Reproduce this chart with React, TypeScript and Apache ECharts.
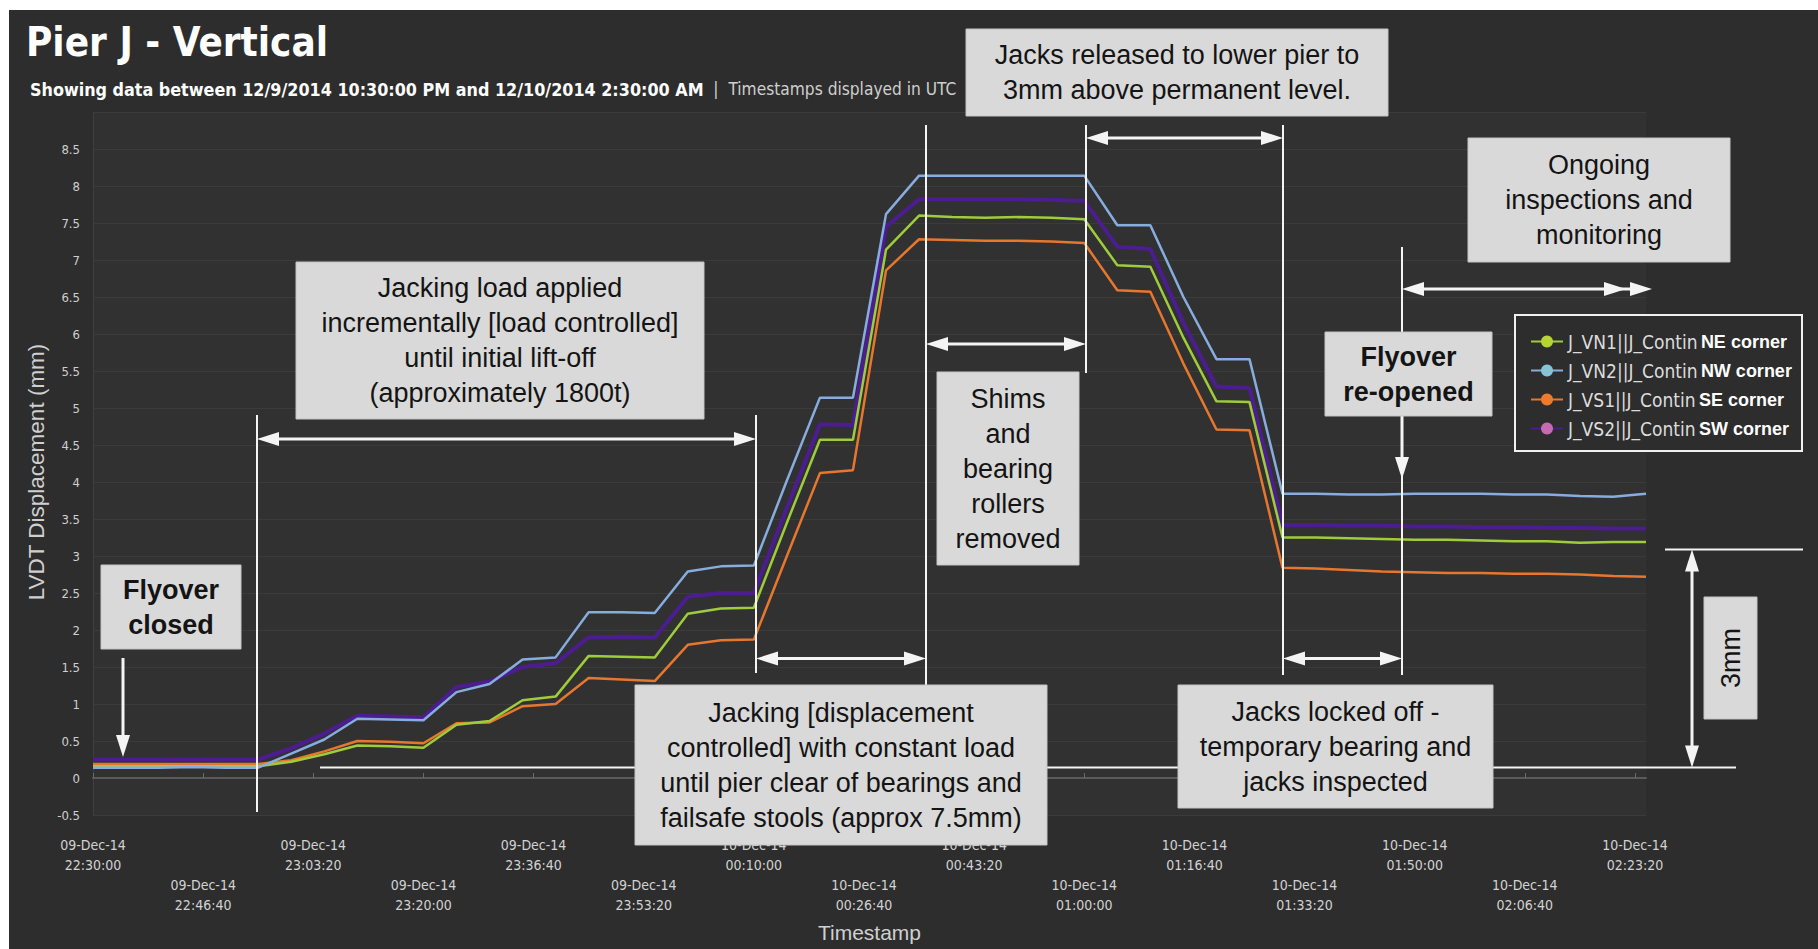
import React, { useEffect, useRef } from "react";
import * as echarts from "echarts";

// ---- data (5-minute samples, 09-Dec-14 22:30 → 10-Dec-14 02:25) ----
const times = [
  "22:30", "22:35", "22:40", "22:45", "22:50", "22:55", "23:00", "23:05", "23:10", "23:15", "23:20", "23:25",
  "23:30", "23:35", "23:40", "23:45", "23:50", "23:55", "00:00", "00:05", "00:10", "00:15", "00:20", "00:25",
  "00:30", "00:35", "00:40", "00:45", "00:50", "00:55", "01:00", "01:05", "01:10", "01:15", "01:20", "01:25",
  "01:30", "01:35", "01:40", "01:45", "01:50", "01:55", "02:00", "02:05", "02:10", "02:15", "02:20", "02:25",
];
const vn1 = [
  0.16, 0.16, 0.16, 0.16, 0.16, 0.16, 0.22, 0.32, 0.44, 0.43, 0.41, 0.72,
  0.77, 1.05, 1.1, 1.65, 1.64, 1.63, 2.22, 2.29, 2.3, 3.45, 4.57, 4.57,
  7.14, 7.6, 7.58, 7.57, 7.58, 7.57, 7.55, 6.93, 6.91, 5.95, 5.09, 5.08,
  3.25, 3.25, 3.24, 3.23, 3.22, 3.22, 3.21, 3.2, 3.2, 3.18, 3.19, 3.19,
];
const vn2 = [
  0.14, 0.14, 0.14, 0.15, 0.14, 0.14, 0.33, 0.52, 0.8, 0.79, 0.78, 1.16,
  1.27, 1.6, 1.63, 2.24, 2.24, 2.23, 2.79, 2.86, 2.87, 4.02, 5.14, 5.14,
  7.62, 8.14, 8.14, 8.14, 8.14, 8.14, 8.14, 7.47, 7.47, 6.5, 5.66, 5.66,
  3.84, 3.84, 3.83, 3.83, 3.84, 3.84, 3.84, 3.83, 3.83, 3.81, 3.8, 3.84,
];
const vs1 = [
  0.19, 0.19, 0.19, 0.19, 0.19, 0.19, 0.24, 0.36, 0.5, 0.49, 0.47, 0.74,
  0.75, 0.97, 1.0, 1.35, 1.33, 1.31, 1.8, 1.86, 1.87, 3.0, 4.12, 4.16,
  6.86, 7.28, 7.27, 7.26, 7.26, 7.25, 7.23, 6.59, 6.57, 5.6, 4.71, 4.7,
  2.84, 2.83, 2.81, 2.79, 2.78, 2.77, 2.77, 2.76, 2.76, 2.75, 2.73, 2.72,
];
const vs2 = [
  0.25, 0.25, 0.25, 0.25, 0.25, 0.25, 0.4, 0.6, 0.84, 0.83, 0.82, 1.23,
  1.3, 1.5, 1.55, 1.9, 1.91, 1.9, 2.45, 2.5, 2.5, 3.65, 4.78, 4.77,
  7.45, 7.82, 7.82, 7.82, 7.82, 7.81, 7.8, 7.18, 7.15, 6.15, 5.29, 5.27,
  3.42, 3.42, 3.41, 3.41, 3.4, 3.4, 3.39, 3.39, 3.38, 3.38, 3.37, 3.37,
];
const seriesNames = ["J_VN1||J_Contin", "J_VN2||J_Contin", "J_VS1||J_Contin", "J_VS2||J_Contin"];
const corners = ["NE corner", "NW corner", "SE corner", "SW corner"];
const xTickLabels = [
  "09-Dec-14\n22:30:00", "09-Dec-14\n22:46:40", "09-Dec-14\n23:03:20", "09-Dec-14\n23:20:00",
  "09-Dec-14\n23:36:40", "09-Dec-14\n23:53:20", "10-Dec-14\n00:10:00", "10-Dec-14\n00:26:40",
  "10-Dec-14\n00:43:20", "10-Dec-14\n01:00:00", "10-Dec-14\n01:16:40", "10-Dec-14\n01:33:20",
  "10-Dec-14\n01:50:00", "10-Dec-14\n02:06:40", "10-Dec-14\n02:23:20",
];

const COND = "'DejaVu Sans Condensed', 'Liberation Sans Narrow', 'DejaVu Sans', sans-serif";
const ARIAL = "'Liberation Sans', Arial, sans-serif";
const WHITE = "#f4f4f4";

function toSec(t: string): number {
  const [h, m] = t.split(":").map(Number);
  let s = h * 3600 + m * 60;
  if (h < 12) s += 24 * 3600;
  return s - (22 * 3600 + 30 * 60);
}

function line(x1: number, y1: number, x2: number, y2: number, w = 2) {
  return { type: "line", z: 50, shape: { x1, y1, x2, y2 }, style: { stroke: WHITE, lineWidth: w } };
}
function head(tx: number, ty: number, dir: string) {
  const L = 22, H = 7;
  let pts: number[][] = [];
  if (dir === "l") pts = [[tx, ty], [tx + L, ty - H], [tx + L, ty + H]];
  if (dir === "r") pts = [[tx, ty], [tx - L, ty - H], [tx - L, ty + H]];
  if (dir === "u") pts = [[tx, ty], [tx - H, ty + L], [tx + H, ty + L]];
  if (dir === "d") pts = [[tx, ty], [tx - H, ty - L], [tx + H, ty - L]];
  return { type: "polygon", z: 51, shape: { points: pts }, style: { fill: WHITE } };
}
function hDouble(x1: number, x2: number, y: number) {
  return [line(x1 + 10, y, x2 - 10, y, 3), head(x1, y, "l"), head(x2, y, "r")];
}
function box(x: number, y: number, w: number, h: number, text: string, bold = false) {
  return [
    { type: "rect", z: 60, shape: { x, y, width: w, height: h }, style: { fill: "#d9d9d9", stroke: "#c4c4c4", lineWidth: 1 } },
    {
      type: "text", z: 61,
      style: {
        x: x + w / 2, y: y + h / 2, text, align: "center", verticalAlign: "middle",
        fontFamily: ARIAL, fontSize: 27, fontWeight: bold ? "bold" : "normal", lineHeight: 35, fill: "#141414",
      },
    },
  ];
}

export default function App() {
  const ref = useRef<HTMLDivElement>(null);
  useEffect(() => {
    if (!ref.current) return;
    const chart = echarts.init(ref.current, undefined, { renderer: "svg" });
    const mk = (arr: number[]) => times.map((t, i) => [toSec(t), arr[i]]);
    const graphics: any[] = [
      {
        type: "text", z: 50,
        style: { x: 26, y: 42, text: "Pier J - Vertical", fill: "#ffffff", fontFamily: COND, fontWeight: "bold", fontSize: 40, verticalAlign: "middle" },
      },
      {
        type: "text", z: 50,
        style: {
          x: 30, y: 89, verticalAlign: "middle",
          text: "{b|Showing data between 12/9/2014 10:30:00 PM and 12/10/2014 2:30:00 AM}{s|  |  Timestamps displayed in UTC}",
          rich: {
            b: { fontFamily: COND, fontWeight: "bold", fontSize: 17.8, fill: "#ffffff" },
            s: { fontFamily: COND, fontSize: 17.2, fill: "#cfcfcf" },
          },
        },
      },
      {
        type: "text", z: 50, x: 36, y: 472, rotation: Math.PI / 2,
        style: { x: 0, y: 0, text: "LVDT Displacement (mm)", align: "center", verticalAlign: "middle", fontFamily: ARIAL, fontSize: 22.5, fill: "#cfcfcf" },
      },
      // marker lines
      line(257, 415, 257, 812),
      line(756, 415, 756, 673),
      line(926, 125, 926, 690),
      line(1086, 125, 1086, 373),
      line(1283, 125, 1283, 675),
      line(1402, 247, 1402, 675),
      line(320, 767.5, 1736, 767.5),
      line(1665, 549.5, 1803, 549.5),
      ...hDouble(257, 756, 439),
      ...hDouble(756, 926, 658.5),
      ...hDouble(926, 1086, 344),
      ...hDouble(1086, 1283, 138),
      ...hDouble(1283, 1402, 658.5),
      ...hDouble(1402, 1652, 289),
      head(1626, 289, "r"),
      line(1692, 560, 1692, 757, 3),
      head(1692, 549.5, "u"),
      head(1692, 767.5, "d"),
      line(123, 658, 123, 740, 3),
      head(123, 757, "d"),
      head(1402, 479, "d"),
      line(1402, 416, 1402, 470, 3),
      // legend frame
      { type: "rect", z: 3, shape: { x: 1515, y: 315, width: 287, height: 136 }, style: { fill: "#2d2d2d", stroke: "#f0f0f0", lineWidth: 2 } },
      // annotation boxes
      ...box(101, 565, 140, 84, "Flyover\nclosed", true),
      ...box(296, 262, 408, 157, "Jacking load applied\nincrementally [load controlled]\nuntil initial lift-off\n(approximately 1800t)"),
      ...box(966, 29, 422, 87, "Jacks released to lower pier to\n3mm above permanent level."),
      ...box(937, 372, 142, 193, "Shims\nand\nbearing\nrollers\nremoved"),
      ...box(635, 685, 412, 160, "Jacking [displacement\ncontrolled] with constant load\nuntil pier clear of bearings and\nfailsafe stools (approx 7.5mm)"),
      ...box(1468, 138, 262, 124, "Ongoing\ninspections and\nmonitoring"),
      ...box(1325, 332, 167, 84, "Flyover\nre-opened", true),
      ...box(1178, 685, 315, 123, "Jacks locked off -\ntemporary bearing and\njacks inspected"),
      { type: "rect", z: 60, shape: { x: 1704, y: 597, width: 53, height: 122 }, style: { fill: "#d9d9d9", stroke: "#c4c4c4", lineWidth: 1 } },
      {
        type: "text", z: 61, x: 1731, y: 658, rotation: Math.PI / 2,
        style: { x: 0, y: 0, text: "3mm", align: "center", verticalAlign: "middle", fontFamily: ARIAL, fontSize: 27, fill: "#141414" },
      },
    ];

    const option: any = {
      animation: false,
      backgroundColor: "transparent",
      grid: { left: 93, right: 172, top: 112, bottom: 134, show: true, backgroundColor: "#313131", borderWidth: 0 },
      xAxis: {
        type: "value", min: 0, max: 14100, interval: 1000, offset: 13,
        axisLine: { show: true, lineStyle: { color: "#5a5a5a", width: 2 } },
        axisTick: { show: true, inside: true, length: 5, lineStyle: { color: "#6a6a6a" } },
        splitLine: { show: false },
        axisLabel: {
          color: "#d2d2d2", fontSize: 14, fontFamily: COND, lineHeight: 20, margin: 7, showMaxLabel: false,
          formatter: (v: number) => {
            const i = Math.round(v / 1000);
            if (i >= xTickLabels.length || Math.abs(v - i * 1000) > 1) return "";
            return (i % 2 ? "\n\n" : "") + xTickLabels[i];
          },
        },
        name: "Timestamp", nameLocation: "middle", nameGap: 104,
        nameTextStyle: { color: "#d0d0d0", fontSize: 21, fontFamily: ARIAL, verticalAlign: "middle" },
      },
      yAxis: {
        type: "value", min: -0.5, max: 9, interval: 0.5,
        axisLine: { show: true, lineStyle: { color: "#404040" } },
        axisTick: { show: false },
        splitLine: { show: true, lineStyle: { color: "#3b3b3b", width: 1 } },
        axisLabel: {
          color: "#cfcfcf", fontSize: 13, fontFamily: COND, margin: 13,
          formatter: (v: number) => (Math.abs(v - 9) < 1e-6 ? "" : String(v)),
        },
      },
      legend: {
        orient: "vertical", left: 1530, top: 332, itemGap: 10, padding: 0, itemWidth: 32, itemHeight: 15,
        selectedMode: false, z: 4,
        data: seriesNames,
        formatter: (name: string) => `{a|${name}} {b|${corners[seriesNames.indexOf(name)]}}`,
        textStyle: {
          lineHeight: 18,
          rich: {
            a: { fontFamily: COND, fontSize: 19, color: "#dcdcdc", lineHeight: 18 },
            b: { fontFamily: ARIAL, fontSize: 18, fontWeight: "bold", color: "#ffffff", lineHeight: 18 },
          },
        },
      },
      series: [
        { name: seriesNames[3], type: "line", data: mk(vs2), symbol: "circle", showSymbol: false, lineStyle: { color: "#4b1d90", width: 4 }, itemStyle: { color: "#c46bb3" } },
        { name: seriesNames[2], type: "line", data: mk(vs1), symbol: "circle", showSymbol: false, lineStyle: { color: "#e8772e", width: 2.5 }, itemStyle: { color: "#f07a2c" } },
        { name: seriesNames[0], type: "line", data: mk(vn1), symbol: "circle", showSymbol: false, lineStyle: { color: "#9fcc3b", width: 2.5 }, itemStyle: { color: "#b8d335" } },
        { name: seriesNames[1], type: "line", data: mk(vn2), symbol: "circle", showSymbol: false, lineStyle: { color: "#87ade0", width: 2.5 }, itemStyle: { color: "#86c3d6" } },
      ],
      graphic: { elements: graphics },
    };
    chart.setOption(option);
    return () => chart.dispose();
  }, []);

  return (
    <div style={{ position: "fixed", left: 0, top: 0, width: 1818, height: 949, background: "#ffffff" }}>
      <div style={{ position: "absolute", left: 9, top: 10, width: 1809, height: 939, background: "#2d2d2d" }} />
      <div ref={ref} style={{ position: "absolute", left: 0, top: 0, width: 1818, height: 949 }} />
    </div>
  );
}
